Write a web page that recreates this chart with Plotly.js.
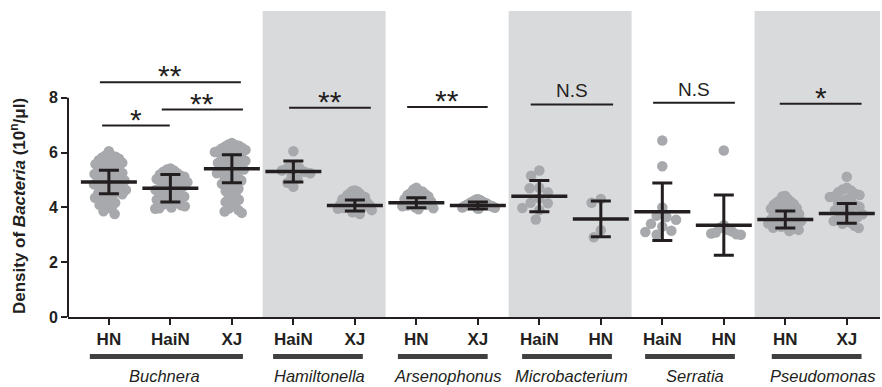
<!DOCTYPE html>
<html><head><meta charset="utf-8">
<script src="https://cdn.plot.ly/plotly-3.0.1.min.js"></script>
<style>html,body{margin:0;padding:0;background:#fff}#chart{width:882px;height:387px}</style>
</head><body><div id="chart"></div>
<script>
// ---------------- data ----------------
const tickLabels = ['HN','HaiN','XJ','HaiN','XJ','HN','XJ','HaiN','HN','HaiN','HN','HN','XJ'];
const groupNames = ['Buchnera','Hamiltonella','Arsenophonus','Microbacterium','Serratia','Pseudomonas'];

const buchneraHN = [6.05,5.9,5.88,5.85,5.82,5.78,5.72,5.68,5.63,5.58,5.55,5.5,5.46,5.42,5.38,5.33,5.3,5.26,5.22,5.18,5.14,5.1,5.06,5.02,4.98,4.95,4.91,4.88,4.84,4.8,4.76,4.72,4.68,4.64,4.6,4.56,4.52,4.48,4.44,4.4,4.35,4.3,4.24,4.17,4.1,4.02,3.95,3.86,3.76];
const buchneraHaiN = [5.42,5.38,5.35,5.3,5.25,5.2,5.16,5.12,5.08,5.04,5.0,4.96,4.92,4.88,4.84,4.8,4.76,4.72,4.68,4.64,4.6,4.56,4.52,4.48,4.44,4.4,4.36,4.32,4.28,4.24,4.2,4.16,4.12,4.08,4.04,4.0,3.97,3.95];
const buchneraXJ = [6.35,6.3,6.28,6.25,6.22,6.18,6.15,6.1,6.06,6.02,5.98,5.94,5.9,5.86,5.82,5.78,5.74,5.7,5.66,5.62,5.58,5.54,5.5,5.46,5.42,5.38,5.34,5.3,5.25,5.2,5.15,5.1,5.04,4.98,4.92,4.86,4.8,4.74,4.68,4.6,4.52,4.44,4.36,4.28,4.2,4.12,4.04,3.96,3.9,3.85,3.8];
const hamiltonellaHaiN = [6.05,5.5,5.45,5.45,5.35,5.3,5.25,5.15,5.05,4.9,4.75];
const hamiltonellaXJ = [4.62,4.6,4.58,4.52,4.5,4.45,4.4,4.38,4.32,4.3,4.28,4.22,4.2,4.18,4.15,4.12,4.1,4.08,4.05,4.03,4.02,3.98,3.95,3.92,3.9,3.86,3.82,3.76];
const arsenophonusHN = [4.72,4.65,4.6,4.58,4.52,4.48,4.45,4.4,4.35,4.3,4.28,4.26,4.22,4.18,4.14,4.1,4.07,4.04,4.0,3.97,3.93];
const arsenophonusXJ = [4.3,4.29,4.28,4.26,4.25,4.23,4.22,4.2,4.19,4.18,4.16,4.15,4.13,4.12,4.1,4.09,4.08,4.06,4.05,4.04,4.03,4.02,4.0,3.99,3.97,3.95];
const microbacteriumHaiN = [5.35,5.16,4.72,4.7,4.55,4.33,4.17,4.15,3.98,3.9,3.56];
const microbacteriumHN = [4.31,4.17,3.17,2.91];
const serratiaHaiN = [6.44,5.5,4.0,3.7,3.65,3.55,3.4,3.3,3.15,3.1,3.0];
const serratiaHN = [6.08,3.35,3.25,3.18,3.12,3.08,3.05,3.02,3.0];
const pseudomonasHN = [4.42,4.4,4.3,4.25,4.2,4.18,4.12,4.1,4.05,4.02,3.98,3.95,3.9,3.88,3.85,3.8,3.76,3.72,3.68,3.65,3.62,3.59,3.56,3.53,3.5,3.47,3.44,3.41,3.38,3.35,3.32,3.29,3.26,3.22,3.18,3.14];
const pseudomonasXJ = [5.12,4.72,4.65,4.62,4.55,4.5,4.45,4.4,4.38,4.3,4.25,4.22,4.15,4.08,4.02,3.96,3.9,3.85,3.8,3.75,3.7,3.65,3.6,3.55,3.5,3.45,3.4,3.33,3.25];

const samples = [buchneraHN,buchneraHaiN,buchneraXJ,hamiltonellaHaiN,hamiltonellaXJ,arsenophonusHN,arsenophonusXJ,microbacteriumHaiN,microbacteriumHN,serratiaHaiN,serratiaHN,pseudomonasHN,pseudomonasXJ];
const means = [4.93,4.70,5.41,5.31,4.07,4.17,4.07,4.41,3.58,3.84,3.35,3.56,3.78];
const sds   = [0.43,0.50,0.51,0.385,0.20,0.18,0.13,0.57,0.65,1.05,1.10,0.31,0.36];

const sigLabels = ['**','*','**','**','**','N.S','N.S','*'];
const sigLevels = [8.57,6.99,7.57,7.64,7.67,7.76,7.82,7.78];

// ---------------- layout config ----------------
const W = 882, H = 387;
const M = {l:68, r:2, t:11, b:70};
const xRange = [-0.665, 12.54];
const yRange = [0, 11.17];
const groupBarX0 = [-0.31,2.67,4.70,6.72,8.72,10.78];
const groupBarX1 = [2.18,4.13,6.16,8.18,10.18,12.24];
const groupLabelX = [0.9,3.42,5.5,7.52,9.53,11.62];
const bandX0 = [2.5,6.5,10.5];
const bandX1 = [4.5,8.5,12.54];
const sigX0 = [-0.146,-0.11,0.86,2.93,4.85,6.86,8.85,10.91];
const sigX1 = [2.146,0.99,2.18,4.26,6.16,8.20,10.18,12.24];

const INK = '#231f20';
const FONT = 'Liberation Sans, Arial, Helvetica, sans-serif';

const xpx = (W - M.l - M.r) / (xRange[1] - xRange[0]);
const ypx = (H - M.t - M.b) / (yRange[1] - yRange[0]);

function swarm(vals, D, maxHalf) {
  const order = vals.map((v,i)=>i).sort((a,b)=>vals[b]-vals[a]);
  const placed = [];
  const off = new Array(vals.length).fill(0);
  for (const i of order) {
    const py = vals[i]*ypx;
    const ivs = [];
    for (const p of placed) {
      const dy = Math.abs(p.py - py);
      if (dy < D) { const w = Math.sqrt(D*D - dy*dy); ivs.push([p.x-w, p.x+w]); }
    }
    const cands = [0];
    ivs.forEach(iv => { cands.push(iv[0], iv[1]); });
    cands.sort((a,b) => Math.abs(a)-Math.abs(b) || a-b);
    let x = 0;
    for (const c of cands) {
      if (ivs.every(iv => c <= iv[0]+1e-9 || c >= iv[1]-1e-9)) { x = c; break; }
    }
    placed.push({x, py}); off[i] = x;
  }
  const m = Math.max(0, ...off.map(Math.abs));
  const k = m > maxHalf ? maxHalf/m : 1;
  return off.map(o => o*k);
}

const px = [], py = [];
samples.forEach((vals, idx) => {
  const offs = swarm(vals, 10, 17);
  vals.forEach((v,j) => { px.push(idx + offs[j]/xpx); py.push(v); });
});
const positions = tickLabels.map((_,i)=>i);

const traces = [
  {type:'scatter', mode:'markers', x:px, y:py, hoverinfo:'skip',
   marker:{size:10.5, color:'#a7a9ac', line:{width:0}}, cliponaxis:false},
  {type:'scatter', mode:'markers', x:positions, y:means,
   marker:{symbol:'line-ew', size:40, color:INK, line:{width:3.5, color:INK}},
   error_y:{type:'data', array:sds, visible:true, color:INK, thickness:3, width:10},
   cliponaxis:false}
];

const shapes = [];
bandX0.forEach((x0,i) => shapes.push({type:'rect', xref:'x', yref:'paper', x0:x0, x1:bandX1[i], y0:0, y1:1,
  fillcolor:'#d9dadc', line:{width:0}, layer:'below'}));
shapes.push({type:'line', xref:'paper', yref:'y', x0:0, x1:0, y0:0, y1:8, line:{color:INK, width:2}});
groupNames.forEach((g,i) => shapes.push({type:'line', xref:'x', yref:'paper', x0:groupBarX0[i], x1:groupBarX1[i],
  y0:-0.129, y1:-0.129, line:{color:'#404040', width:5}}));
sigLabels.forEach((s,i) => shapes.push({type:'line', xref:'x', yref:'y', x0:sigX0[i], x1:sigX1[i],
  y0:sigLevels[i], y1:sigLevels[i], line:{color:INK, width:2}}));

const annotations = [];
groupNames.forEach((g,i) => annotations.push({xref:'x', yref:'paper', x:groupLabelX[i], y:-0.194,
  text:'<i>'+g+'</i>', showarrow:false, xanchor:'center', yanchor:'middle',
  font:{family:FONT, size:16.5, color:INK}}));
sigLabels.forEach((s,i) => {
  const isNS = s === 'N.S';
  annotations.push({xref:'x', yref:'y', x:(sigX0[i]+sigX1[i])/2, y:sigLevels[i],
    text:s, showarrow:false, xanchor:'center', yanchor:'bottom',
    yshift: isNS ? 1 : -12,
    font:{family:FONT, size: isNS ? 19 : 30, color:INK}});
});
annotations.push({xref:'paper', yref:'y', x:(18-M.l)/(W-M.l-M.r), y:4.05, textangle:-90,
  text:'<b>Density of <i>Bacteria</i> (10<sup>n</sup>/μl)</b>', showarrow:false,
  xanchor:'center', yanchor:'middle', font:{family:FONT, size:17, color:INK}});

const layout = {
  width:W, height:H, margin:M, paper_bgcolor:'#fff', plot_bgcolor:'rgba(0,0,0,0)',
  showlegend:false,
  xaxis:{range:xRange, tickmode:'array', tickvals:positions, ticktext:tickLabels,
    showgrid:false, zeroline:false, showline:true, linecolor:INK, linewidth:2,
    ticks:'outside', ticklen:6, tickwidth:2, tickcolor:INK,
    tickfont:{family:FONT, size:17, color:INK, weight:'bold'}},
  yaxis:{range:yRange, tickmode:'array', tickvals:[0,2,4,6,8], ticktext:['0','2','4','6','8'],
    showgrid:false, zeroline:false, showline:false,
    ticks:'outside', ticklen:6, tickwidth:2, tickcolor:INK,
    tickfont:{family:FONT, size:16, color:INK, weight:'bold'}},
  shapes:shapes, annotations:annotations
};
Plotly.newPlot('chart', traces, layout, {staticPlot:true, displayModeBar:false});
</script></body></html>
